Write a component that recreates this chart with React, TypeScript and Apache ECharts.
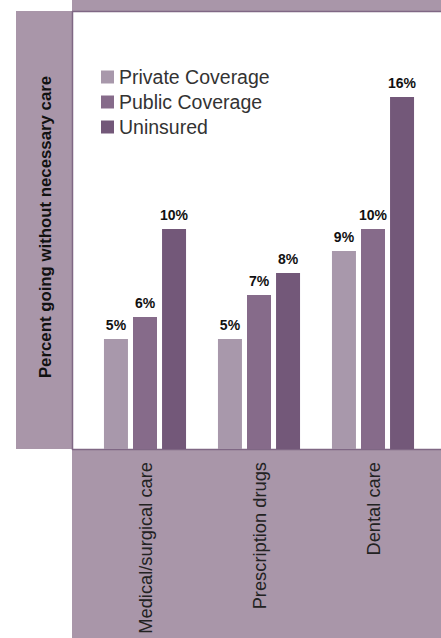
import React, { useEffect, useRef } from "react";
import * as echarts from "echarts";

const categories = ["Medical/surgical care", "Prescription drugs", "Dental care"];
const seriesNames = ["Private Coverage", "Public Coverage", "Uninsured"];
const privateValues = [5, 5, 9];
const publicValues = [6, 7, 10];
const uninsuredValues = [10, 8, 16];
const seriesColors = ["#a898ab", "#866b8a", "#735879"];
const yTitle = "Percent going without necessary care";

const BAND = "#a996a9";
const EDGE = "#7f6784";

export default function App() {
  const ref = useRef<HTMLDivElement>(null);
  useEffect(() => {
    if (!ref.current) return;
    const chart = echarts.init(ref.current, undefined, { renderer: "svg" });
    const values = [privateValues, publicValues, uninsuredValues];
    chart.setOption({
      animation: false,
      backgroundColor: "#ffffff",
      textStyle: { fontFamily: "Liberation Sans" },
      graphic: [
        { type: "rect", z: -10, shape: { x: 72, y: 0, width: 369, height: 11 }, style: { fill: BAND } },
        { type: "rect", z: -10, shape: { x: 16, y: 11, width: 56, height: 438 }, style: { fill: BAND } },
        { type: "rect", z: -10, shape: { x: 72, y: 449, width: 369, height: 189 }, style: { fill: BAND } },
        { type: "line", z: -9, shape: { x1: 72, y1: 11.5, x2: 441, y2: 11.5 }, style: { stroke: EDGE, lineWidth: 1.5 } },
        { type: "line", z: -9, shape: { x1: 72.5, y1: 11, x2: 72.5, y2: 450 }, style: { stroke: EDGE, lineWidth: 1.5 } },
        { type: "line", z: -9, shape: { x1: 72, y1: 449.5, x2: 441, y2: 449.5 }, style: { stroke: EDGE, lineWidth: 1.5 } },
        {
          type: "text",
          z: 10,
          x: 45,
          y: 227,
          rotation: Math.PI / 2,
          style: {
            text: yTitle,
            align: "center",
            verticalAlign: "middle",
            font: "bold 16.8px 'Liberation Sans'",
            fill: "#111111",
          },
        },
      ],
      legend: {
        orient: "vertical",
        left: 96,
        top: 62,
        itemWidth: 13,
        itemHeight: 13,
        itemGap: 5,
        icon: "rect",
        data: seriesNames,
        textStyle: { fontSize: 19.5, color: "#333333", lineHeight: 20, fontFamily: "Liberation Sans" },
      },
      grid: { left: 88, right: 11, top: 9, bottom: 189, containLabel: false },
      xAxis: {
        type: "category",
        data: categories,
        z: 5,
        axisLine: { show: false },
        axisTick: { show: false },
        axisLabel: { rotate: 90, margin: 13, fontSize: 18.3, color: "#222222", fontFamily: "Liberation Sans" },
      },
      yAxis: {
        type: "value",
        min: 0,
        max: 20,
        show: false,
        splitLine: { show: false },
      },
      series: seriesNames.map((name, i) => ({
        name,
        type: "bar",
        data: values[i],
        barWidth: 24,
        barGap: "21%",
        itemStyle: { color: seriesColors[i] },
        label: {
          show: true,
          position: "top",
          distance: 7,
          formatter: "{c}%",
          fontSize: 14,
          fontWeight: "bold",
          color: "#111111",
          fontFamily: "Liberation Sans",
        },
      })),
    });
    return () => chart.dispose();
  }, []);
  return <div ref={ref} style={{ position: "fixed", left: 0, top: 0, width: 441, height: 638 }} />;
}
